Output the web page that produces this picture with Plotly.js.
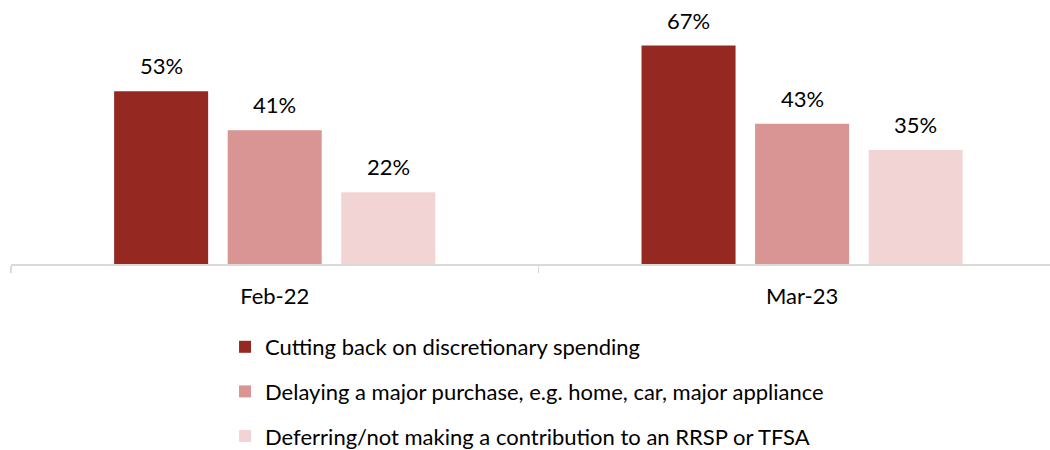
<!DOCTYPE html>
<html>
<head>
<meta charset="utf-8">
<script src="https://cdn.plot.ly/plotly-3.0.1.min.js"></script>
<style>html,body{margin:0;padding:0;background:#fff;}#chart{width:1050px;height:450px;}</style>
</head>
<body>
<div id="chart"></div>
<script>
var categories = ['Feb-22', 'Mar-23'];
var seriesNames = [
  'Cutting back on discretionary spending',
  'Delaying a major purchase, e.g. home, car, major appliance',
  'Deferring/not making a contribution to an RRSP or TFSA'
];
var cuttingBack = [53, 67];
var delayingPurchase = [41, 43];
var deferringContribution = [22, 35];
var seriesValues = [cuttingBack, delayingPurchase, deferringContribution];
var colors = ['#952821', '#D99594', '#F2D4D4'];

var FONT = 'Lato, "Open Sans", sans-serif';
var bargap = 0.354, bargroupgap = 0.172;
var slot = (1 - bargap) / seriesValues.length;

var traces = seriesValues.map(function (vals, j) {
  return {
    type: 'bar',
    name: seriesNames[j],
    x: categories,
    y: vals,
    marker: {color: colors[j]},
    legendgroup: 'g' + j,
    hoverinfo: 'none'
  };
});

var annotations = [];
seriesValues.forEach(function (vals, j) {
  vals.forEach(function (v, i) {
    annotations.push({
      x: i + (j - (seriesValues.length - 1) / 2) * slot,
      y: v,
      xref: 'x', yref: 'y',
      text: v + '%',
      showarrow: false,
      yanchor: 'bottom',
      yshift: 10,
      font: {family: FONT, size: 22, color: '#000'}
    });
  });
});

var layout = {
  width: 1050, height: 450,
  margin: {l: 11, r: 0, t: 10, b: 186},
  paper_bgcolor: '#fff', plot_bgcolor: '#fff',
  barmode: 'group', bargap: bargap, bargroupgap: bargroupgap,
  showlegend: true,
  legend: {
    orientation: 'v', x: 0.206, xanchor: 'left', y: 1 - 326 / 450, yref: 'container', yanchor: 'top',
    tracegroupgap: 13, traceorder: 'grouped',
    font: {family: FONT, size: 22, color: '#000'}
  },
  xaxis: {
    type: 'category', range: [-0.5, 1.47],
    showline: true, linecolor: '#D9D9D9', linewidth: 1.5,
    ticks: 'outside', tickson: 'boundaries', ticklen: 7, tickcolor: '#D9D9D9', tickwidth: 1.5,
    ticklabelstandoff: 12,
    showgrid: false, zeroline: false,
    tickfont: {family: FONT, size: 22, color: '#000'}
  },
  yaxis: {
    range: [0, 77.9], visible: false, showgrid: false, zeroline: false
  },
  annotations: annotations
};

Plotly.newPlot('chart', traces, layout, {displayModeBar: false, staticPlot: true});
</script>
</body>
</html>
